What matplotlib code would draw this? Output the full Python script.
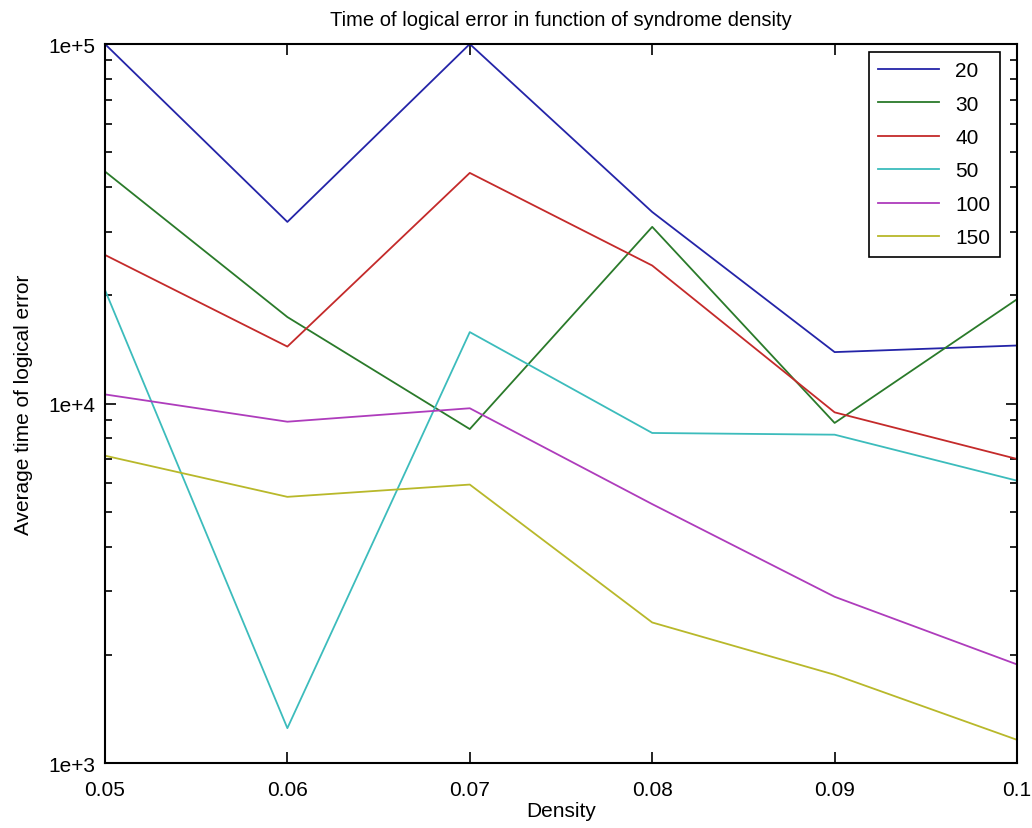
import matplotlib

matplotlib.use("Agg")
import matplotlib.pyplot as plt
from matplotlib.ticker import LogLocator, NullFormatter, FixedLocator

plt.rcParams["font.family"] = ["Liberation Sans", "DejaVu Sans"]

# data
density = [0.05, 0.06, 0.07, 0.08, 0.09, 0.10]
labels = ["20", "30", "40", "50", "100", "150"]
t_20 = [100000, 32000, 100000, 34100, 13900, 14500]
t_30 = [44200, 17400, 8490, 31000, 8830, 19500]
t_40 = [25900, 14400, 43800, 24200, 9450, 7010]
t_50 = [20700, 1250, 15800, 8280, 8190, 6100]
t_100 = [10600, 8900, 9700, 5250, 2900, 1880]
t_150 = [7160, 5500, 5950, 2460, 1760, 1160]
series = [t_20, t_30, t_40, t_50, t_100, t_150]
colors = ["#2424a8", "#2a7a2a", "#c42a2a", "#3cbcbc", "#ae3cbc", "#b8b82a"]

y_ticks = [1e3, 1e4, 1e5]
y_ticklabels = ["1e+3", "1e+4", "1e+5"]

fig = plt.figure(figsize=(10.32, 8.29), dpi=100)
ax = fig.add_axes([0.1017, 0.0784, 0.8838, 0.8673])

for vals, lab, col in zip(series, labels, colors):
    ax.plot(density, vals, color=col, lw=1.3, label=lab)

ax.set_yscale("log")
ax.set_xlim(0.05, 0.10)
ax.set_ylim(1e3, 1e5)
ax.set_xticks(density)
ax.set_xticklabels(["0.05", "0.06", "0.07", "0.08", "0.09", "0.1"])
ax.yaxis.set_major_locator(FixedLocator(y_ticks))
ax.set_yticklabels(y_ticklabels)
ax.yaxis.set_minor_locator(LogLocator(base=10, subs=range(2, 10)))
ax.yaxis.set_minor_formatter(NullFormatter())

ax.tick_params(which="both", direction="in", top=True, right=True,
               labelsize=15, width=1.2, colors="black")
ax.tick_params(which="major", length=8)
ax.tick_params(axis="x", which="major", pad=12)
ax.tick_params(axis="y", which="major", pad=7)
ax.tick_params(which="minor", length=5)
for sp in ax.spines.values():
    sp.set_linewidth(1.5)

ax.set_title("Time of logical error in function of syndrome density",
             fontsize=14.5, pad=14)
ax.set_xlabel("Density", fontsize=15, labelpad=2)
ax.set_ylabel("Average time of logical error", fontsize=15, labelpad=11)

leg = ax.legend(loc="upper right", bbox_to_anchor=(0.981, 0.989),
                fontsize=15, handlelength=2.9, handletextpad=0.8,
                borderaxespad=0, fancybox=False, framealpha=1,
                edgecolor="black", labelspacing=0.69, borderpad=0.45)
leg.get_frame().set_linewidth(1.2)

fig.savefig("out.png", dpi=100)
